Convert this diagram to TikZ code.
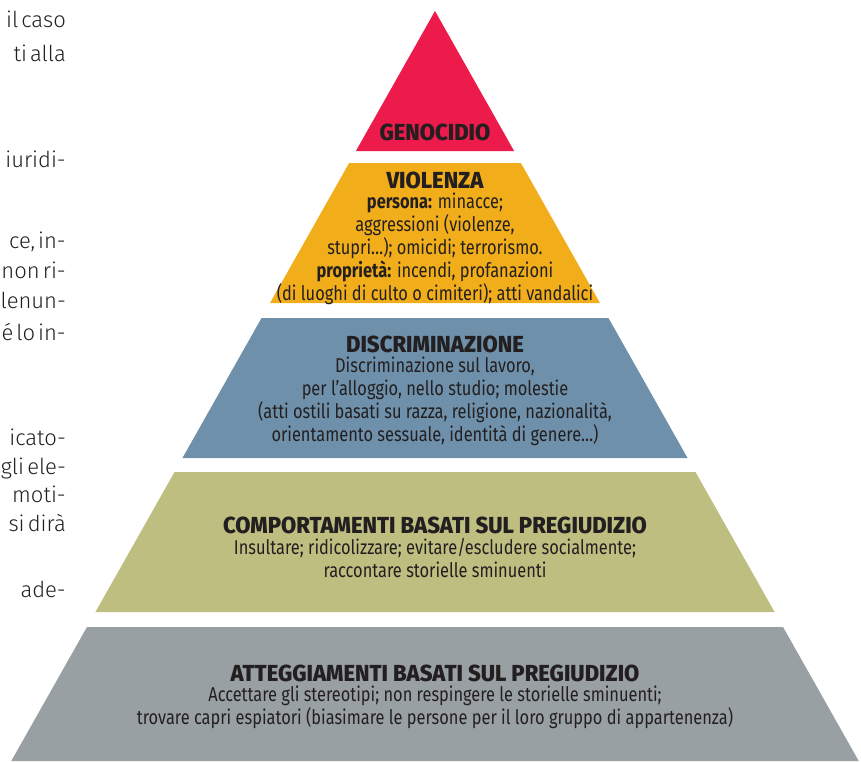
\documentclass[tikz,border=0pt]{standalone}
\usepackage{fontspec}
\setmainfont{Fira Sans}
\newfontfamily\pyrfont{Fira Sans}[FakeStretch=0.82]
\newfontfamily\headfont{Fira Sans ExtraBold}[FakeStretch=0.95]
\newfontfamily\sidefont{Fira Sans Light}
\newcommand\sidesetup{\sidefont\fontsize{22}{30}\selectfont\spaceskip=0.14em plus 0.05em\relax}
\usetikzlibrary{positioning}

\definecolor{genred}{HTML}{EC1B4B}
\definecolor{violorange}{HTML}{F1AE1A}
\definecolor{discblue}{HTML}{6E90AA}
\definecolor{compolive}{HTML}{BEBE80}
\definecolor{attgrey}{HTML}{99A0A3}
\definecolor{ink}{HTML}{231F20}

\tikzset{
  head/.style={font=\headfont\fontsize{23.2}{23}\selectfont},
  body/.style={font=\pyrfont\fontsize{20}{23}\selectfont, align=center},
  side/.style={font=\sidesetup, anchor=base east},
}

\begin{document}
\begin{tikzpicture}[x=1pt,y=-1pt]
\useasboundingbox (0,0) rectangle (861,761);

% layers of the pyramid
\foreach \ya/\yb/\col in {11/151/genred,163/303/violorange,318/458/discblue,472/612/compolive,627/761/attgrey}
    \fill[\col] ({435-0.565*(\ya-11)},\ya) -- ({435+0.565*(\ya-11)},\ya)
        -- ({435+0.565*(\yb-11)},\yb) -- ({435-0.565*(\yb-11)},\yb) -- cycle;

\begin{scope}[every node/.style={text=ink,inner sep=0pt}]
    \node[head] (genhead) at (435,132) {GENOCIDIO};

    \node[head] (viohead) at (435,180) {VIOLENZA};
    \node[body,below=4pt of viohead] (viobody)
        {\textbf{persona:} minacce;\\aggressioni (violenze,\\stupri…); omicidi; terrorismo.\\
         \textbf{proprietà:} incendi, profanazioni\\(di luoghi di culto o cimiteri); atti vandalici};

    \node[head] (dishead) at (435,344) {DISCRIMINAZIONE};
    \node[body,below=4pt of dishead] (disbody)
        {Discriminazione sul lavoro,\\per l’alloggio, nello studio; molestie\\
         (atti ostili basati su razza, religione, nazionalità,\\orientamento sessuale, identità di genere…)};

    \node[head] (comhead) at (435,525) {COMPORTAMENTI BASATI SUL PREGIUDIZIO};
    \node[body,below=4pt of comhead] (combody)
        {Insultare; ridicolizzare; evitare/escludere socialmente;\\raccontare storielle sminuenti};

    \node[head] (atthead) at (435,673) {ATTEGGIAMENTI BASATI SUL PREGIUDIZIO};
    \node[body,below=4pt of atthead] (attbody)
        {Accettare gli stereotipi; non respingere le storielle sminuenti;\\
         trovare capri espiatori (biasimare le persone per il loro gruppo di appartenenza)};
\end{scope}

% cut-off column of text on the left
\begin{scope}[every node/.style={side,text=ink,inner sep=0pt}]
    \node (s1) at (66,27) {il caso};
    \node (s2) at (66,61) {ti alla};
    \node (s3) at (66,167) {iuridi-};
    \node (s4) at (66,248) {ce, in-};
    \node (s5) at (66,278) {non ri-};
    \node (s6) at (66,308) {lenun-};
    \node (s7) at (66,340) {é lo in-};
    \node (s8) at (66,445) {icato-};
    \node (s9) at (66,474) {gli ele-};
    \node (s10) at (66,502) {moti-};
    \node (s11) at (66,531) {si dirà};
    \node (s12) at (66,597) {ade-};
\end{scope}
\end{tikzpicture}
\end{document}
